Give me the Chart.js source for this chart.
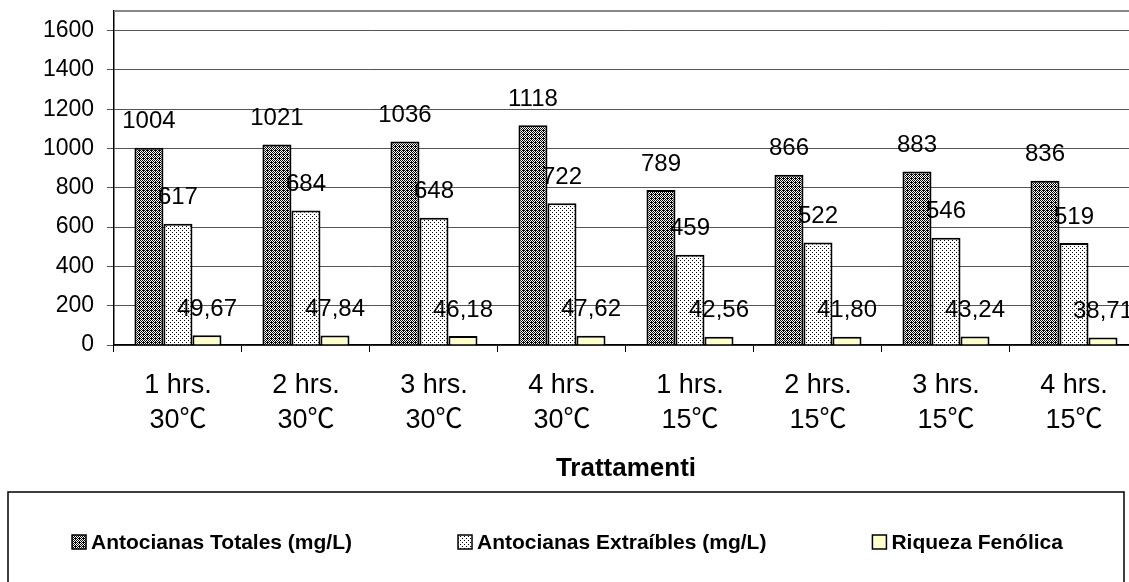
<!DOCTYPE html>
<html>
<head>
<meta charset="utf-8">
<script src="https://cdn.jsdelivr.net/npm/chart.js@4.4.1/dist/chart.umd.min.js"></script>
<style>
  html, body { margin: 0; padding: 0; background: #fff; overflow: hidden; }
  #wrap { width: 1140px; height: 582px; }
</style>
</head>
<body>
<div id="wrap"><canvas id="c" width="1140" height="582"></canvas></div>
<script>
const hours = ['1 hrs.', '2 hrs.', '3 hrs.', '4 hrs.', '1 hrs.', '2 hrs.', '3 hrs.', '4 hrs.'];
const temps = ['30℃', '30℃', '30℃', '30℃', '15℃', '15℃', '15℃', '15℃'];
const seriesNames = ['Antocianas Totales (mg/L)', 'Antocianas Extraíbles (mg/L)', 'Riqueza Fenólica'];
const totales = [1004, 1021, 1036, 1118, 789, 866, 883, 836];
const extraibles = [617, 684, 648, 722, 459, 522, 546, 519];
const riqueza = [49.67, 47.84, 46.18, 47.62, 42.56, 41.80, 43.24, 38.71];
const yTicks = [0, 200, 400, 600, 800, 1000, 1200, 1400, 1600];
const axisTitle = 'Trattamenti';

const FONT = '"Liberation Sans", Arial, sans-serif';
const XFONT = '"Liberation Sans", "Noto Sans CJK JP", Arial, sans-serif';

function makePattern(rows, on, off) {
  const n = rows.length, m = rows[0].length;
  const pc = document.createElement('canvas');
  pc.width = m; pc.height = n;
  const pctx = pc.getContext('2d');
  for (let y = 0; y < n; y++) {
    for (let x = 0; x < m; x++) {
      pctx.fillStyle = rows[y][x] === '1' ? on : off;
      pctx.fillRect(x, y, 1, 1);
    }
  }
  return document.getElementById('c').getContext('2d').createPattern(pc, 'repeat');
}
const darkPattern = makePattern(['1010', '0101', '1011', '0101'], '#000', '#fff');
const dotPattern = makePattern(['1000', '0000', '0010', '0000'], '#000', '#fff');
const fills = [darkPattern, dotPattern, '#FFFFCC'];

const labels = hours.map((h, i) => [h, temps[i]]);

const dataLabelPlugin = {
  id: 'dataLabels',
  afterDatasetsDraw(chart) {
    const ctx = chart.ctx;
    ctx.save();
    ctx.font = '24px ' + FONT;
    ctx.fillStyle = '#000';
    ctx.textAlign = 'center';
    ctx.textBaseline = 'middle';
    chart.data.datasets.forEach((ds, di) => {
      const meta = chart.getDatasetMeta(di);
      meta.data.forEach((el, i) => {
        const v = ds.data[i];
        const txt = di === 2 ? v.toFixed(2).replace('.', ',') : String(v);
        ctx.fillText(txt, el.x, el.y - 26);
      });
    });
    ctx.restore();
  }
};

const framePlugin = {
  id: 'frame',
  beforeDatasetsDraw(chart) {
    const {ctx, chartArea} = chart;
    ctx.save();
    ctx.strokeStyle = '#888';
    ctx.lineWidth = 2;
    ctx.beginPath();
    ctx.moveTo(chartArea.left, chartArea.top);
    ctx.lineTo(chartArea.right, chartArea.top);
    ctx.stroke();
    ctx.restore();
  }
};

const legendPlugin = {
  id: 'boxLegend',
  afterDraw(chart) {
    const ctx = chart.ctx;
    ctx.save();
    ctx.strokeStyle = '#000';
    ctx.lineWidth = 1.5;
    ctx.strokeRect(8, 492, 1116, 200);
    ctx.font = 'bold 21px ' + FONT;
    const box = 14, gapBox = 5, gapItem = 106;
    const widths = seriesNames.map(t => box + gapBox + ctx.measureText(t).width);
    const total = widths.reduce((a, b) => a + b, 0) + gapItem * (widths.length - 1);
    let x = 567.5 - total / 2;
    const cy = 542;
    seriesNames.forEach((t, i) => {
      ctx.fillStyle = fills[i];
      ctx.fillRect(x, cy - box / 2, box, box);
      ctx.strokeStyle = '#000';
      ctx.lineWidth = 1.5;
      ctx.strokeRect(x, cy - box / 2, box, box);
      ctx.fillStyle = '#000';
      ctx.textAlign = 'left';
      ctx.textBaseline = 'middle';
      ctx.fillText(t, x + box + gapBox, cy + 1);
      x += widths[i] + gapItem;
    });
    ctx.restore();
  }
};

new Chart(document.getElementById('c'), {
  type: 'bar',
  data: {
    labels: labels,
    datasets: [
      { label: seriesNames[0], data: totales, backgroundColor: fills[0], borderColor: '#000', borderWidth: 2 },
      { label: seriesNames[1], data: extraibles, backgroundColor: fills[1], borderColor: '#000', borderWidth: 2 },
      { label: seriesNames[2], data: riqueza, backgroundColor: fills[2], borderColor: '#000', borderWidth: 2 }
    ]
  },
  options: {
    responsive: false,
    animation: false,
    layout: { padding: { left: 43, right: 2, top: 11, bottom: 93.6 } },
    datasets: { bar: { categoryPercentage: 0.68, barPercentage: 1.0 } },
    plugins: {
      legend: { display: false },
      tooltip: { enabled: false }
    },
    scales: {
      x: {
        grid: { drawOnChartArea: false, color: '#000', tickLength: 7, offset: true },
        border: { color: '#000', width: 1.5 },
        ticks: {
          color: '#000',
          padding: 15.5,
          maxRotation: 0,
          autoSkip: false,
          font: { family: XFONT, size: 27, lineHeight: 1.3 }
        },
        title: {
          display: true,
          text: axisTitle,
          color: '#000',
          padding: { top: 0, bottom: 4 },
          font: { family: FONT, size: 26, weight: 'bold', lineHeight: 1.2 }
        }
      },
      y: {
        min: 0,
        max: 1700,
        afterBuildTicks(scale) { scale.ticks = yTicks.map(v => ({ value: v })); },
        grid: { color: '#555', lineWidth: 1, tickLength: 7 },
        border: { color: '#000', width: 1.5 },
        ticks: {
          color: '#000',
          padding: 0,
          callback: (v) => String(v) + '  ',
          font: { family: FONT, size: 23, lineHeight: 0.9 }
        }
      }
    }
  },
  plugins: [dataLabelPlugin, framePlugin, legendPlugin]
});
</script>
</body>
</html>
